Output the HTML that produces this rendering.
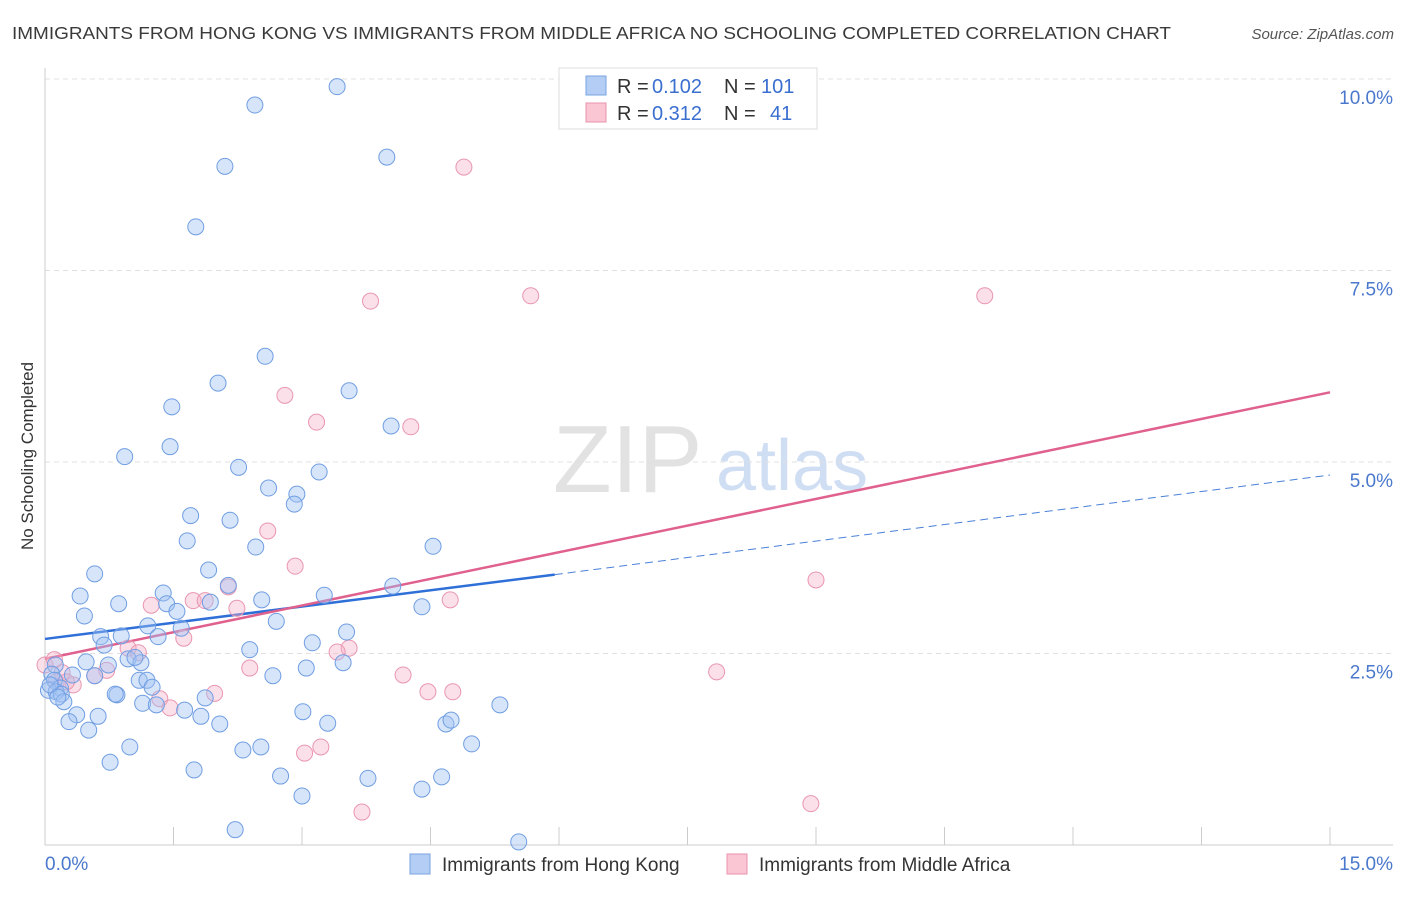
<!DOCTYPE html>
<html><head><meta charset="utf-8">
<style>
body{margin:0;background:#fff;font-family:"Liberation Sans",sans-serif;}
svg text{font-family:"Liberation Sans",sans-serif;}
</style></head>
<body>
<svg id="chart" width="1406" height="892" viewBox="0 0 1406 892" xmlns="http://www.w3.org/2000/svg">
<text x="12" y="39" font-size="17.5" fill="#3a3a3a" textLength="1159" lengthAdjust="spacingAndGlyphs">IMMIGRANTS FROM HONG KONG VS IMMIGRANTS FROM MIDDLE AFRICA NO SCHOOLING COMPLETED CORRELATION CHART</text>
<text x="1394" y="39" font-size="15" fill="#555" font-style="italic" text-anchor="end">Source: ZipAtlas.com</text>
<text transform="translate(33,456) rotate(-90)" font-size="17" fill="#333" text-anchor="middle">No Schooling Completed</text>
<g>
<text x="553" y="492" font-size="96" font-family="Liberation Serif,serif" fill="#e2e2e2">ZIP</text>
<text x="716" y="490" font-size="72" fill="#d0def4">atlas</text>
</g>
<g id="grid"></g>
<g id="axes"></g>
<g id="trend"></g>
<g id="pts-pink"></g>
<g id="pts-blue"></g>
<g>
<rect x="559" y="68" width="258" height="61" fill="#fff" stroke="#ddd"/>
<rect x="586" y="76" width="20" height="19" fill="#b4cdf5" stroke="#7aa2e0"/>
<text x="617" y="93" font-size="20" fill="#333">R =</text>
<text x="652" y="93" font-size="20" fill="#3a6fd0">0.102</text>
<text x="724" y="93" font-size="20" fill="#333">N =</text>
<text x="761" y="93" font-size="20" fill="#3a6fd0">101</text>
<rect x="586" y="103" width="20" height="19" fill="#fac6d4" stroke="#e993ad"/>
<text x="617" y="120" font-size="20" fill="#333">R =</text>
<text x="652" y="120" font-size="20" fill="#3a6fd0">0.312</text>
<text x="724" y="120" font-size="20" fill="#333">N =</text>
<text x="770" y="120" font-size="20" fill="#3a6fd0">41</text>
</g>
<g>
<rect x="410" y="854" width="20" height="20" fill="#b4cdf5" stroke="#7aa2e0"/>
<text x="442" y="871" font-size="19" fill="#333">Immigrants from Hong Kong</text>
<rect x="727" y="854" width="20" height="20" fill="#fac6d4" stroke="#e993ad"/>
<text x="759" y="871" font-size="19" fill="#333">Immigrants from Middle Africa</text>
</g>
</svg>
<script>
const blueX=[3.41,2.45,2.10,3.99,1.76,2.57,2.02,3.55,1.48,4.04,0.93,1.46,2.26,3.20,2.61,2.94,2.91,1.70,2.16,1.66,2.46,4.53,0.58,1.91,2.14,4.06,0.41,1.38,0.86,1.42,1.93,2.53,3.26,0.46,1.54,2.70,4.40,1.20,1.59,0.65,0.89,1.32,3.52,0.69,2.39,3.12,0.12,0.48,0.74,0.97,1.12,1.05,3.48,0.08,0.32,0.58,0.11,1.10,1.19,2.66,3.05,0.18,1.25,0.04,0.13,0.19,0.84,0.82,1.87,0.22,1.14,1.30,1.63,3.01,5.31,0.37,0.62,1.82,0.28,2.04,3.30,4.68,4.74,0.51,0.99,2.31,2.52,4.98,0.76,1.74,2.75,3.77,4.63,4.40,3.00,2.22,5.53,0.06,0.15];
const blueY=[9.90,9.66,8.86,8.98,8.07,6.38,6.03,5.93,5.72,5.47,5.07,5.20,4.93,4.87,4.66,4.58,4.45,4.30,4.24,3.97,3.89,3.90,3.54,3.59,3.39,3.38,3.25,3.29,3.15,3.15,3.17,3.20,3.26,2.99,3.05,2.92,3.11,2.86,2.83,2.72,2.73,2.72,2.78,2.61,2.55,2.64,2.35,2.39,2.35,2.43,2.38,2.45,2.38,2.23,2.22,2.21,2.15,2.15,2.15,2.21,2.31,2.05,2.06,2.02,2.00,1.97,1.96,1.97,1.92,1.87,1.85,1.83,1.76,1.74,1.83,1.70,1.68,1.68,1.61,1.58,1.59,1.58,1.63,1.50,1.28,1.24,1.28,1.32,1.08,0.98,0.90,0.87,0.89,0.73,0.64,0.20,0.04,2.09,1.93];
const pinkX=[4.89,3.80,5.67,10.97,2.80,3.17,4.27,2.60,2.92,2.14,4.73,9.00,1.24,1.73,1.87,2.24,1.62,0.97,1.09,3.55,3.41,2.39,0.20,0.72,0.33,0.58,0.13,0.25,4.18,7.84,4.47,4.76,1.34,1.98,1.46,3.22,3.03,3.70,8.94,0.00,0.11];
const pinkY=[8.85,7.10,7.17,7.17,5.87,5.52,5.46,4.10,3.64,3.37,3.20,3.46,3.13,3.19,3.19,3.09,2.70,2.57,2.51,2.57,2.52,2.31,2.25,2.28,2.09,2.21,2.13,2.13,2.22,2.26,2.00,2.00,1.91,1.98,1.79,1.28,1.20,0.43,0.54,2.35,2.42];
const blueTrendX=[0,5.95,15];
const blueTrendY=[2.69,3.53,4.83];
const pinkTrendX=[0,15];
const pinkTrendY=[2.43,5.91];
const yTicks=[2.5,5.0,7.5,10.0];
const yTickLabels=["2.5%","5.0%","7.5%","10.0%"];
const xTicks=[1.5,3,4.5,6,7.5,9,10.5,12,13.5,15];

const X=v=>45+v*(1285/15);
const Y=v=>845-v*76.6;
const NS="http://www.w3.org/2000/svg";
function mk(tag,attrs,parent){const e=document.createElementNS(NS,tag);for(const k in attrs)e.setAttribute(k,attrs[k]);parent.appendChild(e);return e;}

const grid=document.getElementById('grid');
yTicks.forEach((t,i)=>{
  const l=mk('line',{x1:45,x2:1393,y1:Y(t),y2:Y(t),stroke:'#e0e0e0','stroke-dasharray':'5,4'},grid);
  
  
  const tx=mk('text',{x:1393,y:Y(t)+25,'font-size':19,fill:'#4a78cc','text-anchor':'end'},grid);
  tx.textContent=yTickLabels[i];
  
  
});
const axes=document.getElementById('axes');
const ya=mk('line',{x1:45,x2:45,y1:68,y2:845,stroke:'#ccc'},axes);


const xa=mk('line',{x1:45,x2:1393,y1:845,y2:845,stroke:'#ccc'},axes);


xTicks.forEach(t=>{
  const l=mk('line',{x1:X(t),x2:X(t),y1:827,y2:845,stroke:'#ccc'},axes);
  
  
});
const xl0=mk('text',{x:45,y:870,'font-size':19,fill:'#4a78cc'},axes);
xl0.textContent='0.0%';


const xl1=mk('text',{x:1393,y:870,'font-size':19,fill:'#4a78cc','text-anchor':'end'},axes);
xl1.textContent='15.0%';



const pp=document.getElementById('pts-pink');
pinkX.forEach((x,i)=>{
  const c=mk('circle',{cx:X(x),cy:Y(pinkY[i]),r:8,fill:'rgba(248,178,200,0.4)',stroke:'#e996b0','stroke-width':1},pp);
  
  
});
const bp=document.getElementById('pts-blue');
blueX.forEach((x,i)=>{
  const c=mk('circle',{cx:X(x),cy:Y(blueY[i]),r:8,fill:'rgba(160,192,244,0.42)',stroke:'#709ee2','stroke-width':1},bp);
  
  
});
const tr=document.getElementById('trend');
const b1=mk('line',{x1:X(blueTrendX[0]),y1:Y(blueTrendY[0]),x2:X(blueTrendX[1]),y2:Y(blueTrendY[1]),stroke:'#2e6fd8','stroke-width':2.5},tr);


const b2=mk('line',{x1:X(blueTrendX[1]),y1:Y(blueTrendY[1]),x2:X(blueTrendX[2]),y2:Y(blueTrendY[2]),stroke:'#4a80d8','stroke-width':1,'stroke-dasharray':'8,5'},tr);


const p1=mk('line',{x1:X(pinkTrendX[0]),y1:Y(pinkTrendY[0]),x2:X(pinkTrendX[1]),y2:Y(pinkTrendY[1]),stroke:'#e0608e','stroke-width':2.5},tr);


</script>
</body></html>
